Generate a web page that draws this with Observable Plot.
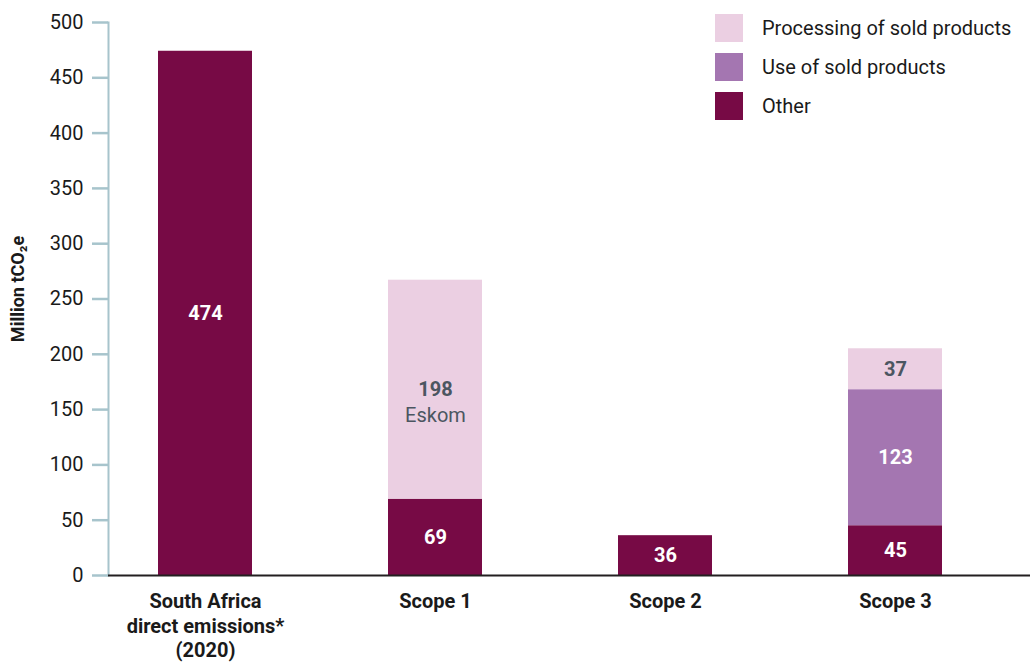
<!DOCTYPE html>
<html>
<head>
<meta charset="utf-8">
<script src="https://cdn.jsdelivr.net/npm/d3@7"></script>
<script src="https://cdn.jsdelivr.net/npm/@observablehq/plot@0.6"></script>
<style>
  body { margin: 0; background: #fff; font-family: Roboto, "Liberation Sans", sans-serif; }
  #wrap { position: relative; width: 1030px; height: 664px; }
  #legend { position: absolute; left: 715px; top: 14px; font-family: Roboto, sans-serif; font-size: 20px; color: #1a1a1a; }
  #legend .row { display: flex; align-items: center; height: 28px; margin-bottom: 11px; }
  #legend .sw { width: 28px; height: 28px; margin-right: 19px; flex: none; }
  svg text { font-family: Roboto, sans-serif; }
</style>
</head>
<body>
<div id="wrap">
  <div id="chart"></div>
  <div id="legend"></div>
</div>
<script>
// Emissions in million tCO2e
const categories = ["South Africa\ndirect emissions*\n(2020)", "Scope 1", "Scope 2", "Scope 3"];
const seriesNames = ["Processing of sold products", "Use of sold products", "Other"];
const seriesColors = ["#ebcfe2", "#a476b1", "#770a45"];
const other = [474, 69, 36, 45];
const useOfSold = [0, 0, 0, 123];
const processing = [0, 198, 0, 37];
const notes = ["", "Eskom", "", ""];
const yTicks = [0, 50, 100, 150, 200, 250, 300, 350, 400, 450, 500];

// Stack order from the baseline up
const stackOrder = ["Other", "Use of sold products", "Processing of sold products"];

const rows = [];
categories.forEach((c, i) => {
  rows.push({category: c, series: "Other", value: other[i], note: ""});
  rows.push({category: c, series: "Use of sold products", value: useOfSold[i], note: ""});
  rows.push({category: c, series: "Processing of sold products", value: processing[i], note: notes[i]});
});
const data = rows.filter(d => d.value > 0);

const labelColor = s => s === "Processing of sold products" ? "#4b5661" : "#ffffff";

const stackOpts = {x: "category", y: "value", z: "series", order: stackOrder};

// Band geometry
const xRange = [88.7, 1010.7];
const xPadInner = 0.593;

const chart = Plot.plot({
  width: 1030,
  height: 664,
  marginLeft: 108,
  marginRight: 0,
  marginTop: 22,
  marginBottom: 89,
  x: {domain: categories, range: xRange, paddingInner: xPadInner, paddingOuter: xPadInner / 2, label: null},
  y: {domain: [0, 500], label: null},
  color: {domain: seriesNames, range: seriesColors},
  marks: [
    Plot.barY(data, Plot.stackY({...stackOpts, fill: "series"})),
    Plot.text(data, Plot.stackY({
      ...stackOpts,
      text: d => String(d.value),
      fill: d => labelColor(d.series),
      fontWeight: "bold",
      fontSize: 20
    })),
    Plot.text(data, Plot.stackY({
      ...stackOpts,
      text: "note",
      fill: "#4b5661",
      fontSize: 20,
      dy: 26
    })),
    Plot.axisY({
      ticks: yTicks,
      tickSize: 16,
      tickPadding: 9,
      stroke: "#a7c4cc",
      strokeWidth: 2.5,
      fill: "#1a1a1a",
      fontSize: 20,
      fontFamily: "Liberation Sans, Arial, sans-serif",
      label: null
    }),
    Plot.frame({anchor: "left", stroke: "#a7c4cc", strokeWidth: 2}),
    Plot.ruleY([0], {stroke: "#231f20", strokeWidth: 2}),
    Plot.axisX({
      tickSize: 0,
      tickPadding: 15,
      fontSize: 20,
      fontWeight: "bold",
      fill: "#1a1a1a",
      lineHeight: 1.23,
      label: null
    }),
    Plot.text(["Million tCO\u2082e"], {
      frameAnchor: "left",
      textAnchor: "middle",
      rotate: -90,
      dx: -90,
      dy: -10,
      fontWeight: "bold",
      fontSize: 18,
      fontFamily: "Liberation Sans, Arial, sans-serif",
      fill: "#1a1a1a"
    })
  ]
});
document.getElementById("chart").append(chart);

// Legend, top right
const legend = document.getElementById("legend");
seriesNames.forEach((name, i) => {
  const row = document.createElement("div");
  row.className = "row";
  const sw = document.createElement("div");
  sw.className = "sw";
  sw.style.background = seriesColors[i];
  const label = document.createElement("span");
  label.textContent = name;
  row.append(sw, label);
  legend.append(row);
});
</script>
</body>
</html>
